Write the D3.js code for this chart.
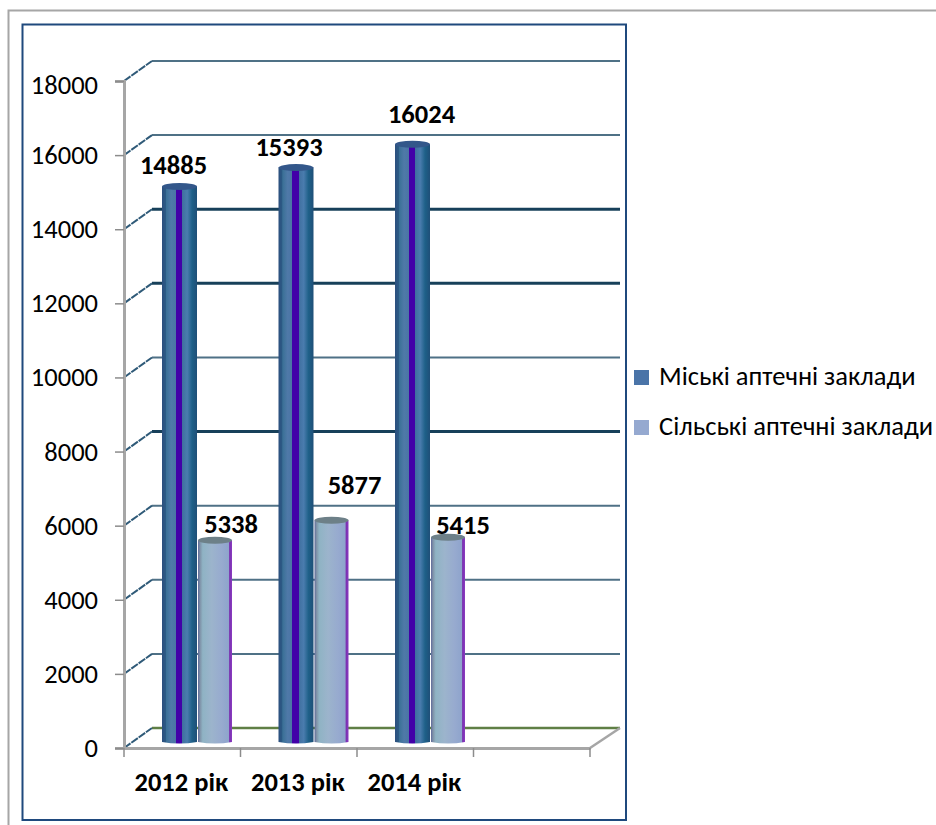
<!DOCTYPE html>
<html>
<head>
<meta charset="utf-8">
<script src="https://cdn.jsdelivr.net/npm/d3@7"></script>
<style>
html, body { margin: 0; padding: 0; background: #fff; overflow: hidden; }
svg { display: block; }
text { font-family: Carlito, Lato, "Open Sans", sans-serif; fill: #000; }
</style>
</head>
<body>
<div id="canvas"></div>
<script>
const categories = ["2012 рік", "2013 рік", "2014 рік", ""];
const cityValues = [14885, 15393, 16024];
const ruralValues = [5338, 5877, 5415];
const yTicks = [0, 2000, 4000, 6000, 8000, 10000, 12000, 14000, 16000, 18000];
const heavyTicks = [8000, 12000, 14000];
const legendLabels = ["Міські аптечні заклади", "Сільські аптечні заклади"];

const width = 936;
const height = 825;
const svg = d3.select("#canvas").append("svg").attr("width", width).attr("height", height);

// 3d offset of the back wall and of the middle of the bars
const depth = { x: 28, y: -20 };
const mid = { x: 0, y: -10 };

const y = d3.scaleLinear().domain([0, 18000]).range([748, 81]);
const x = d3.scaleBand().domain(categories).range([124, 590]);
const barW = 34;

const defs = svg.append("defs");
const stripes = (id, stops) => {
  const g = defs.append("linearGradient").attr("id", id);
  stops.forEach(s => g.append("stop").attr("offset", s[0]).attr("stop-color", s[1]));
};
stripes("cityGrad", [
  [0, "#2c4f7e"], [0.1, "#2c5a85"], [0.12, "#3a7096"], [0.26, "#4f79a8"], [0.4, "#4a74a5"], [0.4, "#4200a8"],
  [0.58, "#4200a8"], [0.58, "#3f6f9f"], [0.72, "#4a7cae"], [0.86, "#1e6088"], [1, "#1f4f78"]
]);
stripes("ruralGrad", [
  [0, "#5f6a9a"], [0.06, "#7f92a8"], [0.14, "#8fb3c4"], [0.4, "#9cb4cc"], [0.7, "#97aacf"],
  [0.9, "#8ea4cc"], [0.93, "#7a2fb0"], [1, "#8a3cc0"]
]);

// page and chart frames
svg.append("rect").attr("x", 8.5).attr("y", 10.5).attr("width", 940).attr("height", 840)
  .attr("fill", "#fff").attr("stroke", "#a6a6a6").attr("stroke-width", 2);
svg.append("rect").attr("x", 22.5).attr("y", 24.5).attr("width", 603.5).attr("height", 795.5)
  .attr("fill", "#fff").attr("stroke", "#1f497d").attr("stroke-width", 2);

// back wall gridlines with their side slants
const grid = svg.append("g");
yTicks.forEach(t => {
  const heavy = heavyTicks.includes(t);
  const col = t === 0 ? "#5f7f45" : heavy ? "#17405a" : "#4f7186";
  const w = heavy ? 3 : t === 0 ? 2.5 : 2;
  grid.append("line")
    .attr("x1", x.range()[0] + depth.x).attr("x2", x.range()[1] + 30)
    .attr("y1", y(t) + depth.y).attr("y2", y(t) + depth.y)
    .attr("stroke", col).attr("stroke-width", w);
  grid.append("line")
    .attr("x1", x.range()[0]).attr("x2", x.range()[0] + depth.x)
    .attr("y1", y(t)).attr("y2", y(t) + depth.y)
    .attr("stroke", "#2f5a78").attr("stroke-width", 2).attr("stroke-dasharray", "8 1");
});
// floor right edge
svg.append("line")
  .attr("x1", x.range()[1]).attr("x2", x.range()[1] + 30)
  .attr("y1", y(0)).attr("y2", y(0) + depth.y)
  .attr("stroke", "#a6a6a6").attr("stroke-width", 2.5);

// axes
const yAxis = svg.append("g").attr("transform", `translate(${x.range()[0]},0)`)
  .call(d3.axisLeft(y).tickValues(yTicks).tickFormat(d3.format("d")).tickSize(9).tickPadding(17));
const xAxis = svg.append("g").attr("transform", `translate(0,${y(0)})`)
  .call(d3.axisBottom(x).tickSize(0).tickFormat(""));
xAxis.append("g").selectAll("line").data([...categories.map(c => x(c)), x.range()[1]]).join("line")
  .attr("x1", d => d).attr("x2", d => d).attr("y1", 0).attr("y2", 9)
  .attr("stroke", "#8c8c8c").attr("stroke-width", 1.5);
[yAxis, xAxis].forEach(a => a.selectAll(".domain").attr("stroke", "#a6a6a6").attr("stroke-width", 3));
yAxis.selectAll(".tick line").attr("stroke", "#8c8c8c").attr("stroke-width", 1.5);
yAxis.selectAll("text").style("font-size", "26.5px").attr("fill", "#000")
  .attr("dy", d => d === 18000 ? "0.48em" : "0.32em");

xAxis.selectAll(".catlabel").data(categories.slice(0, 3)).join("text")
  .attr("x", d => x(d) + x.bandwidth() / 2 - 1).attr("y", 43)
  .attr("text-anchor", "middle").style("font-size", "26.5px").style("font-weight", "bold").text(d => d);

// cylinders: bottom sits on the middle of the floor, top follows the mid-depth scale
// the value labels were placed by hand in the original, hence the per label nudges
const bars = [
  { values: cityValues, fill: "url(#cityGrad)", cap: "#33578a", dx: 38, w: barW + 1,
    nudge: [[-6, -12], [-7, -12], [9, -21]] },
  { values: ruralValues, fill: "url(#ruralGrad)", cap: "#6d8088", dx: 74, w: barW,
    nudge: [[16, -7], [23, -26], [15, -3]] }
];
bars.forEach(b => {
  const g = svg.append("g");
  b.values.forEach((v, i) => {
    const bx = x(categories[i]) + b.dx;
    const top = y(v) + mid.y;
    g.append("path")
      .attr("d", `M${bx},${top}V${y(0) - 6}Q${bx + b.w / 2},${y(0) - 3} ${bx + b.w},${y(0) - 6}V${top}Z`)
      .attr("fill", b.fill);
    g.append("ellipse").attr("cx", bx + b.w / 2).attr("cy", top).attr("rx", b.w / 2).attr("ry", 3.5)
      .attr("fill", b.cap);
  });
});
// labels go last, they overlap the neighbouring bars
bars.forEach(b => {
  b.values.forEach((v, i) => {
    const bx = x(categories[i]) + b.dx;
    svg.append("text").attr("x", bx + b.w / 2 + b.nudge[i][0]).attr("y", y(v) + mid.y + b.nudge[i][1])
      .attr("text-anchor", "middle").style("font-size", "26.5px").style("font-weight", "bold")
      .text(d3.format("d")(v));
  });
});

// legend
const lg = svg.append("g").selectAll("g").data(legendLabels).join("g")
  .attr("transform", (d, i) => `translate(634,${377 + i * 50})`);
lg.append("rect").attr("x", 0).attr("y", -7).attr("width", 15).attr("height", 15)
  .attr("fill", (d, i) => i === 0 ? "#4a74a8" : "#95a9d0");
lg.append("text").attr("x", 25).attr("y", 8).style("font-size", "26.5px").text(d => d);
</script>
</body>
</html>
